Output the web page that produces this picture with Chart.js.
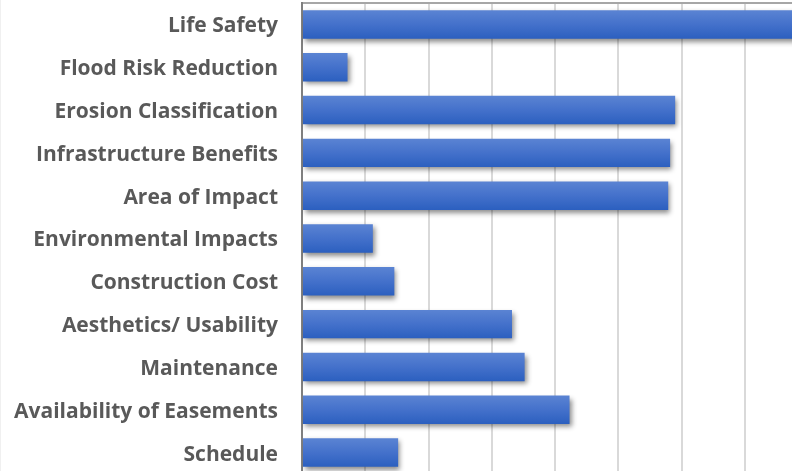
<!DOCTYPE html>
<html>
<head>
<meta charset="utf-8">
<script src="https://cdn.jsdelivr.net/npm/chart.js@4"></script>
<style>
  html, body { margin: 0; padding: 0; background: #fff; overflow: hidden; }
  #wrap { position: relative; width: 808px; height: 475px; margin-top: -1px; }
  #edge { position: absolute; left: 0; top: 0; width: 1px; height: 471px; background: #f0f0f0; z-index: 2; }
</style>
</head>
<body>
<div id="edge"></div>
<div id="wrap"><canvas id="chart"></canvas></div>
<script>
// categories and scores, top to bottom
const categories = [
    'Life Safety',
    'Flood Risk Reduction',
    'Erosion Classification',
    'Infrastructure Benefits',
    'Area of Impact',
    'Environmental Impacts',
    'Construction Cost',
    'Aesthetics/ Usability',
    'Maintenance',
    'Availability of Easements',
    'Schedule'
];
const scores = [8, 0.72, 5.9, 5.82, 5.79, 1.12, 1.46, 3.32, 3.52, 4.23, 1.52];
const xMin = 0;
const xMax = 8;

// vertical gradient per bar, lighter on top
function barFill(ctx) {
    const chart = ctx.chart;
    const y = chart.scales.y;
    if (!y || ctx.dataIndex === undefined) return '#4472c4';
    const mid = y.getPixelForValue(ctx.dataIndex);
    if (!isFinite(mid)) return '#4472c4';
    const half = 14.5;
    const g = chart.ctx.createLinearGradient(0, mid - half, 0, mid + half);
    g.addColorStop(0, '#5b84d3');
    g.addColorStop(0.5, '#4471cb');
    g.addColorStop(1, '#2b5fbf');
    return g;
}

// soft drop shadow under the bars
const barShadow = {
    id: 'barShadow',
    beforeDatasetsDraw(chart) {
        const c = chart.ctx;
        c.save();
        c.shadowColor = 'rgba(0,0,0,0.45)';
        c.shadowBlur = 5;
        c.shadowOffsetX = 2;
        c.shadowOffsetY = 3;
    },
    afterDatasetsDraw(chart) {
        chart.ctx.restore();
    }
};

new Chart(document.getElementById('chart'), {
    type: 'bar',
    data: {
        labels: categories,
        datasets: [{
            data: scores,
            backgroundColor: barFill,
            borderWidth: 0,
            categoryPercentage: 1,
            barPercentage: 0.665
        }]
    },
    options: {
        indexAxis: 'y',
        responsive: true,
        maintainAspectRatio: false,
        animation: false,
        layout: { padding: { top: 4, left: 0, right: 0, bottom: 0 } },
        plugins: {
            legend: { display: false },
            tooltip: { enabled: false }
        },
        scales: {
            x: {
                position: 'top',
                min: xMin,
                max: xMax,
                ticks: { display: false, stepSize: 1 },
                grid: { color: '#d9d9d9', lineWidth: 2, drawTicks: false },
                border: { display: true, color: '#a6a6a6', width: 2 }
            },
            y: {
                afterFit(scale) {
                    scale.width = 302;
                    scale.paddingTop = 0;
                    scale.paddingBottom = 0;
                },
                ticks: {
                    color: '#595959',
                    padding: 24,
                    labelOffset: 2,
                    font: { family: 'Open Sans', size: 21, weight: 'bold' }
                },
                grid: { display: false, drawTicks: false },
                border: { display: true, color: '#7f7f7f', width: 2 }
            }
        }
    },
    plugins: [barShadow]
});
</script>
</body>
</html>
